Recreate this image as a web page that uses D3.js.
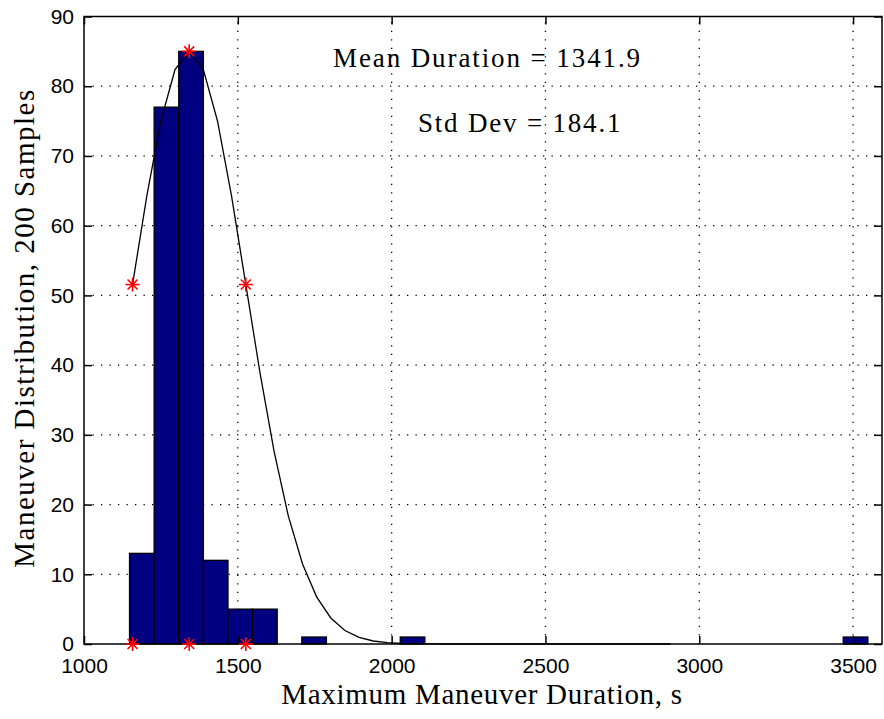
<!DOCTYPE html>
<html>
<head>
<meta charset="utf-8">
<script src="https://cdn.jsdelivr.net/npm/d3@7"></script>
<style>
  body { margin: 0; background: #fff; }
  svg { display: block; }
</style>
</head>
<body>
<svg id="chart" width="884" height="719"></svg>
<script>
// Histogram of maximum maneuver durations (30 equal bins) with a scaled normal fit
const binStart = 1148;
const binWidth = 80;
const binCounts = [13, 77, 85, 12, 5, 5, 0, 1, 0, 0,
                   0, 1, 0, 0, 0, 0, 0, 0, 0, 0,
                   0, 0, 0, 0, 0, 0, 0, 0, 0, 1];
const meanDuration = 1341.9;
const stdDev = 184.1;
const peakCount = 85;
const xTicks = [1000, 1500, 2000, 2500, 3000, 3500];
const yTicks = [0, 10, 20, 30, 40, 50, 60, 70, 80, 90];
const xDomain = [1000, 3594];
const yDomain = [0, 90];

const svg = d3.select("#chart");
const plot = { left: 84, right: 882, top: 16.5, bottom: 644 };

const x = d3.scaleLinear().domain(xDomain).range([plot.left, plot.right]);
const y = d3.scaleLinear().domain(yDomain).range([plot.bottom, plot.top]);

const tickFont = "'Liberation Sans', Arial, sans-serif";
const labelFont = "'Liberation Serif', 'Times New Roman', serif";

// dotted grid
const grid = svg.append("g").attr("stroke", "#000").attr("stroke-width", 1.3)
  .attr("stroke-dasharray", "1.3,7.2");
grid.selectAll("line.gx").data(xTicks.filter(t => t > xDomain[0] && t < xDomain[1]))
  .join("line").attr("class", "gx")
  .attr("x1", d => x(d)).attr("x2", d => x(d))
  .attr("y1", plot.bottom).attr("y2", plot.top);
grid.selectAll("line.gy").data(yTicks.filter(t => t > yDomain[0] && t < yDomain[1]))
  .join("line").attr("class", "gy")
  .attr("y1", d => y(d)).attr("y2", d => y(d))
  .attr("x1", plot.left).attr("x2", plot.right);

// histogram bars
const bins = binCounts.map((c, i) => ({ x0: binStart + i * binWidth, x1: binStart + (i + 1) * binWidth, count: c }));
svg.append("g").selectAll("rect").data(bins).join("rect")
  .attr("x", d => x(d.x0))
  .attr("width", d => x(d.x1) - x(d.x0))
  .attr("y", d => y(d.count))
  .attr("height", d => y(0) - y(d.count))
  .attr("fill", "#000080")
  .attr("stroke", "#000")
  .attr("stroke-width", 1.3);

// normal curve scaled to the tallest bin, sampled every quarter standard deviation
const gauss = v => peakCount * Math.exp(-0.5 * Math.pow((v - meanDuration) / stdDev, 2));
const curveX = d3.range(-4, 35).map(k => meanDuration + k * stdDev / 4);
svg.append("path")
  .datum(curveX)
  .attr("fill", "none")
  .attr("stroke", "#000")
  .attr("stroke-width", 1.3)
  .attr("d", d3.line().x(d => x(d)).y(d => y(gauss(d))));

// axes box
svg.append("rect")
  .attr("x", plot.left).attr("y", plot.top)
  .attr("width", plot.right - plot.left).attr("height", plot.bottom - plot.top)
  .attr("fill", "none").attr("stroke", "#000").attr("stroke-width", 1.5);

// axes with inward ticks
const tickLen = 8;
function styleAxis(g) {
  g.select(".domain").remove();
  g.selectAll(".tick line").attr("stroke", "#000").attr("stroke-width", 1.5);
  g.selectAll(".tick text").attr("fill", "#000").attr("font-family", tickFont).attr("font-size", 21);
}
svg.append("g").attr("transform", `translate(0,${plot.bottom})`)
  .call(d3.axisBottom(x).tickValues(xTicks).tickSize(-tickLen).tickPadding(14).tickFormat(d3.format("d")))
  .call(styleAxis);
svg.append("g").attr("transform", `translate(0,${plot.top})`)
  .call(d3.axisTop(x).tickValues(xTicks).tickSize(-tickLen).tickFormat(""))
  .call(styleAxis);
svg.append("g").attr("transform", `translate(${plot.left},0)`)
  .call(d3.axisLeft(y).tickValues(yTicks).tickSize(-tickLen).tickPadding(10).tickFormat(d3.format("d")))
  .call(styleAxis);
svg.append("g").attr("transform", `translate(${plot.right},0)`)
  .call(d3.axisRight(y).tickValues(yTicks).tickSize(-tickLen).tickFormat(""))
  .call(styleAxis);

// asterisk markers at mean and mean ± one standard deviation
const markerX = [meanDuration - stdDev, meanDuration, meanDuration + stdDev];
const markers = markerX.map(v => ({ v, c: gauss(v) })).concat(markerX.map(v => ({ v, c: 0 })));
const star = svg.append("g").attr("stroke", "#ff0000").attr("stroke-width", 1.6);
markers.forEach(m => {
  const cx = x(m.v), cy = y(m.c), r = 7, d = 5;
  star.append("line").attr("x1", cx - r).attr("x2", cx + r).attr("y1", cy).attr("y2", cy);
  star.append("line").attr("x1", cx).attr("x2", cx).attr("y1", cy - r).attr("y2", cy + r);
  star.append("line").attr("x1", cx - d).attr("x2", cx + d).attr("y1", cy - d).attr("y2", cy + d);
  star.append("line").attr("x1", cx - d).attr("x2", cx + d).attr("y1", cy + d).attr("y2", cy - d);
});

// annotations
svg.append("text").attr("x", 333).attr("y", 67)
  .attr("font-family", labelFont).attr("font-size", 27).attr("letter-spacing", 1.9).attr("fill", "#000")
  .text(`Mean Duration = ${meanDuration.toFixed(1)}`);
svg.append("text").attr("x", 418).attr("y", 132)
  .attr("font-family", labelFont).attr("font-size", 27).attr("letter-spacing", 1.8).attr("fill", "#000")
  .text(`Std Dev = ${stdDev.toFixed(1)}`);

// axis titles
svg.append("text").attr("x", 482).attr("y", 704)
  .attr("text-anchor", "middle")
  .attr("font-family", labelFont).attr("font-size", 29).attr("letter-spacing", 0.7).attr("fill", "#000")
  .text("Maximum Maneuver Duration, s");
svg.append("text")
  .attr("transform", `translate(34,328) rotate(-90)`)
  .attr("text-anchor", "middle")
  .attr("font-family", labelFont).attr("font-size", 29).attr("letter-spacing", 1.5).attr("fill", "#000")
  .text("Maneuver Distribution, 200 Samples");
</script>
</body>
</html>
